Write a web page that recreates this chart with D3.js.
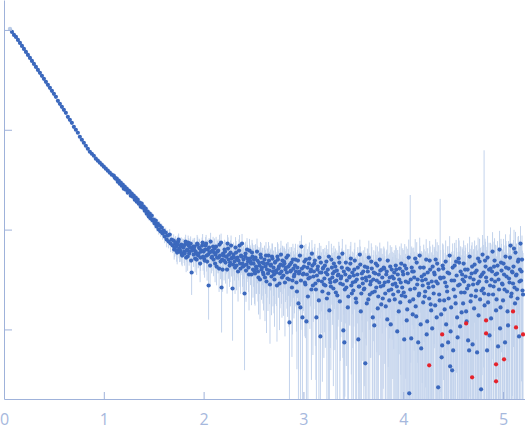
<!DOCTYPE html>
<html>
<head>
<meta charset="utf-8">
<script src="https://cdn.jsdelivr.net/npm/d3@7"></script>
<style>
  html, body { margin: 0; padding: 0; background: #ffffff; }
  svg { display: block; }
</style>
</head>
<body>
<svg id="chart" width="525" height="437"></svg>
<script>
// ---------------- data ----------------
// x: scattering vector q ; y: log10 of intensity (arbitrary units) ; err: sigma (linear units)
const qExcluded = [0.06];
const logIExcluded = [3.01];

const qLow = [0.08,0.10,0.12,0.14,0.16,0.18,0.20,0.22,0.24,0.26,0.28,0.30,0.32,0.34,0.36,0.38,0.40,0.42,0.44,0.46,
  0.48,0.50,0.52,0.54,0.56,0.58,0.60,0.62,0.64,0.66,0.68,0.70,0.72,0.74,0.76,0.78,0.80,0.82,0.84,0.86,
  0.88,0.90,0.92,0.94,0.96,0.98,1.00,1.02,1.04,1.06,1.08];
const logILow = [2.98,2.95,2.93,2.90,2.87,2.84,2.81,2.78,2.75,2.72,2.69,2.66,2.63,2.60,2.57,2.54,2.51,2.48,2.45,2.42,
  2.39,2.36,2.33,2.29,2.26,2.23,2.20,2.17,2.13,2.10,2.07,2.03,2.00,1.97,1.93,1.90,1.87,1.84,1.81,1.78,
  1.76,1.74,1.71,1.69,1.67,1.65,1.63,1.61,1.59,1.57,1.55];
const errLow = [3.6,3.4,3.2,3.0,2.8,2.6,2.4,2.2,2.1,2.0,1.8,1.7,1.6,1.5,1.4,1.3,1.2,1.15,1.1,1.0,
  0.95,0.9,0.85,0.8,0.75,0.7,0.68,0.65,0.6,0.58,0.55,0.52,0.5,0.48,0.46,0.44,0.42,0.41,0.4,0.39,
  0.38,0.37,0.36,0.35,0.35,0.34,0.34,0.33,0.33,0.32,0.32];

const qHigh = [
  1.10,1.11,1.12,1.13,1.14,1.15,1.16,1.17,1.18,1.19,1.20,1.21,1.22,1.23,1.24,1.25,1.26,1.27,1.28,1.29,
  1.30,1.31,1.32,1.33,1.34,1.35,1.36,1.37,1.38,1.39,1.40,1.41,1.42,1.43,1.44,1.45,1.46,1.47,1.48,1.49,
  1.50,1.51,1.52,1.53,1.54,1.55,1.56,1.57,1.58,1.59,1.60,1.61,1.62,1.63,1.64,1.65,1.66,1.67,1.68,1.69,
  1.70,1.71,1.72,1.73,1.74,1.75,1.76,1.77,1.78,1.79,1.80,1.81,1.82,1.83,1.84,1.85,1.86,1.87,1.88,1.89,
  1.90,1.91,1.92,1.93,1.94,1.95,1.96,1.97,1.98,1.99,2.00,2.01,2.02,2.03,2.04,2.05,2.06,2.07,2.08,2.09,
  2.10,2.11,2.12,2.13,2.14,2.15,2.16,2.17,2.18,2.19,2.20,2.21,2.22,2.23,2.24,2.25,2.26,2.27,2.28,2.29,
  2.30,2.31,2.32,2.33,2.34,2.35,2.36,2.37,2.38,2.39,2.40,2.41,2.42,2.43,2.44,2.45,2.46,2.47,2.48,2.49,
  2.50,2.51,2.52,2.53,2.54,2.55,2.56,2.57,2.58,2.59,2.60,2.61,2.62,2.63,2.64,2.65,2.66,2.67,2.68,2.69,
  2.70,2.71,2.72,2.73,2.74,2.75,2.76,2.77,2.78,2.79,2.80,2.81,2.82,2.83,2.84,2.85,2.86,2.87,2.88,2.89,
  2.90,2.91,2.92,2.93,2.94,2.95,2.96,2.97,2.98,2.99,3.00,3.01,3.02,3.03,3.04,3.05,3.06,3.07,3.08,3.09,
  3.10,3.11,3.12,3.13,3.14,3.15,3.16,3.17,3.18,3.19,3.20,3.21,3.22,3.23,3.24,3.25,3.26,3.27,3.28,3.29,
  3.30,3.31,3.32,3.33,3.34,3.35,3.36,3.37,3.38,3.39,3.40,3.41,3.42,3.43,3.44,3.45,3.46,3.47,3.48,3.49,
  3.50,3.51,3.52,3.53,3.54,3.55,3.56,3.57,3.58,3.59,3.60,3.61,3.62,3.63,3.64,3.65,3.66,3.67,3.68,3.69,
  3.70,3.71,3.72,3.73,3.74,3.75,3.76,3.77,3.78,3.79,3.80,3.81,3.82,3.83,3.84,3.85,3.86,3.87,3.88,3.89,
  3.90,3.91,3.92,3.93,3.94,3.95,3.96,3.97,3.98,3.99,4.00,4.01,4.02,4.03,4.04,4.05,4.06,4.07,4.08,4.09,
  4.10,4.11,4.12,4.13,4.14,4.15,4.16,4.17,4.18,4.19,4.20,4.21,4.22,4.23,4.24,4.25,4.26,4.27,4.28,4.29,
  4.30,4.31,4.32,4.33,4.34,4.35,4.36,4.37,4.38,4.39,4.40,4.41,4.42,4.43,4.44,4.45,4.46,4.47,4.48,4.49,
  4.50,4.51,4.52,4.53,4.54,4.55,4.56,4.57,4.58,4.59,4.60,4.61,4.62,4.63,4.64,4.65,4.66,4.67,4.68,4.69,
  4.70,4.71,4.72,4.73,4.74,4.75,4.76,4.77,4.78,4.79,4.80,4.81,4.82,4.83,4.84,4.85,4.86,4.87,4.88,4.89,
  4.90,4.91,4.92,4.93,4.94,4.95,4.96,4.97,4.98,4.99,5.00,5.01,5.02,5.03,5.04,5.05,5.06,5.07,5.08,5.09,
  5.10,5.11,5.12,5.13,5.14,5.15,5.16,5.17,5.18,5.19,5.20];
const logIHigh = [
  1.54,1.52,1.51,1.51,1.48,1.49,1.46,1.47,1.44,1.45, 1.41,1.43,1.40,1.41,1.37,1.39,1.38,1.34,1.36,1.33,
  1.34,1.30,1.32,1.28,1.30,1.26,1.27,1.23,1.26,1.22, 1.23,1.19,1.21,1.16,1.18,1.13,1.16,1.11,1.14,1.09,
  1.10,1.06,1.09,1.03,1.06,1.00,1.04,0.98,1.02,0.96, 0.99,0.93,0.97,0.90,0.94,0.88,0.95,0.86,0.90,0.84,
  0.89,0.82,0.87,0.79,0.85,0.90,0.78,0.83,0.76,0.84, 0.83,0.76,0.88,0.79,0.73,0.84,0.78,0.86,0.57,0.81,
  0.75,0.83,0.78,0.70,0.85,0.76,0.81,0.72,0.79,0.87, 0.78,0.69,0.84,0.74,0.80,0.44,0.77,0.88,0.72,0.79,
  0.70,0.81,0.75,0.63,0.78,0.72,0.85,0.68,0.42,0.60, 0.74,0.80,0.67,0.73,0.86,0.70,0.64,0.77,0.71,0.41,
  0.75,0.68,0.82,0.64,0.72,0.69,0.84,0.61,0.73,0.66, 0.70,0.36,0.76,0.65,0.71,0.62,0.79,0.68,0.55,0.73,
  0.66,0.58,0.72,0.61,0.69,0.52,0.64,0.75,0.60,0.67, 0.55,0.70,0.63,0.48,0.66,0.74,0.59,0.64,0.53,0.71,
  0.62,0.50,0.68,0.57,0.73,0.61,0.46,0.65,0.58,0.69, 0.54,0.66,0.60,0.72,0.51,0.63,0.07,0.58,0.67,0.49,
  0.61,0.55,0.70,0.47,0.62,0.26,0.58,0.22,0.83,0.12, 0.56,0.68,0.45,0.08,0.62,0.51,0.71,0.58,0.40,0.64,
  0.53,0.66,0.46,0.12,0.60,0.49,0.72,-0.07,0.57,0.38, 0.62,0.51,0.44,0.68,0.55,0.36,0.19,0.47,0.70,0.52,
  0.41,0.58,0.63,0.49,0.34,0.55,0.67,0.46,0.53,0.76, -0.01,-0.13,0.55,0.42,0.61,0.33,0.52,0.66,0.44,0.57,
  0.39,0.60,0.48,0.27,0.55,-0.10,0.43,0.65,0.36,0.51, 0.58,0.41,-0.34,0.49,0.62,0.30,0.53,0.45,0.68,0.37,
  0.50,0.04,0.56,0.42,0.64,0.33,0.47,0.59,0.25,0.52, 0.44,0.61,0.36,0.55,0.10,0.48,0.29,0.63,0.40,0.53,
  0.35,0.57,0.46,0.60,-0.02,0.38,0.50,0.27,0.66,0.42, 0.55,-0.10,0.33,0.61,0.20,0.47,-0.64,0.40,-0.09,0.58,
  0.30,0.52,0.71,0.13,0.45,-0.13,0.36,0.62,-0.19,0.49, 0.27,0.55,0.38,0.70,0.08,0.46,0.31,0.60,0.19,0.01,
  0.43,0.57,0.24,0.48,0.66,-0.58,0.35,0.52,0.15,-0.16, 0.61,0.29,0.47,0.05,0.38,-0.13,0.56,-0.37,0.22,-0.41,
  -0.21,0.49,0.33,0.68,0.12,0.44,0.67,0.03,0.37,0.55, 0.26,0.48,0.60,0.18,0.41,-0.11,-0.21,0.52,0.34,0.63,
  0.45,0.21,0.57,0.39,-0.23,0.71,0.48,0.30,-0.60,0.55, 0.41,0.36,0.69,0.52,-0.21,0.27,0.60,0.44,0.11,0.58,
  0.35,0.63,0.48,0.19,0.56,-0.17,0.40,0.01,0.67,0.46, 0.29,0.55,-0.13,0.62,0.38,0.04,0.51,0.72,0.33,0.58,
  0.46,0.81,0.26,0.54,0.40,0.68,-0.07,0.60,0.49,0.70,0.35];
const errHigh = [
  0.9,1.0,0.9,1.0,0.9,1.0,1.1,0.9,1.0,0.9, 1.0,0.9,1.0,1.1,1.0,0.9,1.0,1.0,1.1,1.0,
  1.0,1.1,1.0,0.9,1.0,1.1,1.0,1.0,1.1,1.0, 1.1,1.0,1.1,1.0,1.2,1.1,1.0,1.1,1.2,1.1,
  1.1,1.2,1.0,1.1,1.2,1.1,1.2,1.1,1.0,1.2, 1.1,1.2,1.1,1.3,1.2,1.1,1.2,1.3,1.2,1.1,
  1.2,1.3,1.2,1.4,1.3,1.2,1.3,1.4,1.3,1.2, 1.3,1.4,1.3,1.4,1.5,1.3,1.4,1.3,1.5,1.4,
  1.4,1.5,1.4,1.5,1.4,1.6,1.5,1.4,1.5,1.6, 1.5,1.6,1.5,1.7,1.6,1.5,1.6,1.7,1.6,1.5,
  1.6,1.7,1.6,1.5,1.7,1.6,1.8,1.6,1.7,1.6, 1.7,1.6,1.8,1.7,1.6,1.8,1.7,1.9,1.7,1.8,
  1.8,1.7,1.8,1.9,1.7,1.8,1.9,1.8,1.7,1.9, 1.8,1.9,1.8,2.0,1.9,1.8,1.9,2.0,1.8,1.9,
  1.9,2.0,1.9,1.8,2.0,1.9,2.1,1.9,2.0,1.9, 2.0,1.9,2.0,2.1,1.9,2.0,2.1,1.9,2.0,2.1,
  2.0,2.1,1.9,2.0,2.1,2.0,1.9,2.1,2.0,2.0, 2.1,2.0,2.1,2.0,1.9,2.1,2.0,2.1,2.0,2.2,
  2.0,2.1,2.2,2.0,2.1,2.0,2.2,2.1,2.0,2.1, 2.1,2.2,2.0,2.1,2.2,2.1,2.3,2.1,2.2,2.1,
  2.2,2.1,2.2,2.3,2.1,2.2,2.1,2.3,2.2,2.1, 2.2,2.3,2.1,2.2,2.3,2.2,2.1,2.3,2.2,2.2,
  2.3,2.2,2.2,2.3,2.1,2.3,2.2,2.4,2.2,2.3, 2.2,2.3,2.4,2.2,2.3,2.4,2.2,2.3,2.4,2.3,
  2.3,2.4,2.3,2.2,2.4,2.3,2.5,2.3,2.4,2.3, 2.4,2.3,2.5,2.4,2.3,2.5,2.4,2.3,2.5,2.4,
  2.4,2.5,2.4,2.6,2.4,2.5,2.4,2.6,2.5,2.4, 2.5,2.4,2.6,2.5,2.4,2.6,2.5,2.7,2.5,2.6,
  2.6,2.5,2.7,2.6,2.5,2.7,2.6,2.5,2.7,2.6, 2.7,2.6,2.8,2.7,2.6,2.8,2.7,19.7,2.8,2.7,
  2.8,2.7,2.9,2.8,2.7,2.9,2.8,2.7,2.9,2.8, 2.9,2.8,2.9,3.0,2.8,2.9,3.0,2.8,2.9,3.0,
  2.9,3.0,2.9,3.1,2.9,3.0,2.9,17.0,3.0,3.1, 3.0,3.1,2.9,3.0,3.1,3.0,3.2,3.0,3.1,3.0,
  3.1,3.0,3.2,3.1,3.0,3.2,3.1,3.0,3.2,3.1, 3.2,3.1,3.0,3.2,3.1,3.3,3.2,3.1,3.3,3.2,
  3.2,3.3,3.1,3.2,3.3,3.2,3.4,3.2,3.3,3.2, 3.3,60.0,3.2,3.4,3.3,3.2,3.4,3.3,3.5,3.3,
  3.4,3.3,3.5,3.4,3.3,3.5,3.4,3.6,3.4,3.5, 3.5,3.4,3.6,3.5,3.4,3.6,3.5,3.7,3.5,3.6,
  3.6,3.5,3.7,3.6,3.5,3.7,3.6,3.8,3.6,3.7,3.6];

// interleaved readings between the grid above (q = x.xx5)
const qMid = [
  1.705,1.715,1.725,1.735,1.745,1.755,1.765,1.775,1.785,1.795, 1.805,1.815,1.825,1.835,1.845,1.855,1.865,1.875,1.885,1.895,
  1.905,1.915,1.925,1.935,1.945,1.955,1.965,1.975,1.985,1.995, 2.005,2.015,2.025,2.035,2.045,2.055,2.065,2.075,2.085,2.095,
  2.105,2.115,2.125,2.135,2.145,2.155,2.165,2.175,2.185,2.195, 2.205,2.215,2.225,2.235,2.245,2.255,2.265,2.275,2.285,2.295,
  2.305,2.315,2.325,2.335,2.345,2.355,2.365,2.375,2.385,2.395, 2.405,2.415,2.425,2.435,2.445,2.455,2.465,2.475,2.485,2.495,
  2.505,2.515,2.525,2.535,2.545,2.555,2.565,2.575,2.585,2.595, 2.605,2.615,2.625,2.635,2.645,2.655,2.665,2.675,2.685,2.695,
  2.705,2.715,2.725,2.735,2.745,2.755,2.765,2.775,2.785,2.795, 2.805,2.815,2.825,2.835,2.845,2.855,2.865,2.875,2.885,2.895,
  2.905,2.915,2.925,2.935,2.945,2.955,2.965,2.975,2.985,2.995, 3.005,3.015,3.025,3.035,3.045,3.055,3.065,3.075,3.085,3.095,
  3.105,3.115,3.125,3.135,3.145,3.155,3.165,3.175,3.185,3.195, 3.205,3.215,3.225,3.235,3.245,3.255,3.265,3.275,3.285,3.295,
  3.305,3.315,3.325,3.335,3.345,3.355,3.365,3.375,3.385,3.395, 3.405,3.415,3.425,3.435,3.445,3.455,3.465,3.475,3.485,3.495,
  3.505,3.515,3.525,3.535,3.545,3.555,3.565,3.575,3.585,3.595, 3.605,3.615,3.625,3.635,3.645,3.655,3.665,3.675,3.685,3.695,
  3.705,3.715,3.725,3.735,3.745,3.755,3.765,3.775,3.785,3.795, 3.805,3.815,3.825,3.835,3.845,3.855,3.865,3.875,3.885,3.895,
  3.905,3.915,3.925,3.935,3.945,3.955,3.965,3.975,3.985,3.995, 4.005,4.015,4.025,4.035,4.045,4.055,4.065,4.075,4.085,4.095,
  4.105,4.115,4.125,4.135,4.145,4.155,4.165,4.175,4.185,4.195, 4.205,4.215,4.225,4.235,4.245,4.255,4.265,4.275,4.285,4.295,
  4.305,4.315,4.325,4.335,4.345,4.355,4.365,4.375,4.385,4.395, 4.405,4.415,4.425,4.435,4.445,4.455,4.465,4.475,4.485,4.495,
  4.505,4.515,4.525,4.535,4.545,4.555,4.565,4.575,4.585,4.595, 4.605,4.615,4.625,4.635,4.645,4.655,4.665,4.675,4.685,4.695,
  4.705,4.715,4.725,4.735,4.745,4.755,4.765,4.775,4.785,4.795, 4.805,4.815,4.825,4.835,4.845,4.855,4.865,4.875,4.885,4.895,
  4.905,4.915,4.925,4.935,4.945,4.955,4.965,4.975,4.985,4.995, 5.005,5.015,5.025,5.035,5.045,5.055,5.065,5.075,5.085,5.095,
  5.105,5.115,5.125,5.135,5.145,5.155,5.165,5.175,5.185,5.195];
const logIMid = [
  0.80,0.86,0.83,0.77,0.88,0.81,0.79,0.85,0.74,0.82, 0.78,0.85,0.72,0.80,0.87,0.76,0.82,0.69,0.79,0.83,
  0.80,0.71,0.76,0.86,0.74,0.82,0.66,0.78,0.84,0.73, 0.71,0.80,0.86,0.68,0.75,0.82,0.64,0.78,0.73,0.83,
  0.77,0.66,0.83,0.72,0.79,0.61,0.74,0.87,0.70,0.76, 0.69,0.78,0.73,0.60,0.81,0.75,0.67,0.84,0.72,0.65,
  0.72,0.62,0.77,0.70,0.58,0.79,0.66,0.74,0.86,0.63, 0.64,0.73,0.59,0.80,0.68,0.55,0.71,0.66,0.77,0.60,
  0.70,0.56,0.63,0.78,0.58,0.67,0.50,0.72,0.62,0.57, 0.66,0.52,0.74,0.60,0.56,0.69,0.45,0.65,0.73,0.58,
  0.55,0.67,0.59,0.44,0.70,0.63,0.56,0.75,0.52,0.64, 0.68,0.47,0.62,0.57,0.74,0.50,0.65,0.59,0.42,0.70,
  0.53,0.64,0.58,0.38,0.69,0.56,0.74,0.49,0.61,0.55, 0.63,0.47,0.70,0.55,0.33,0.66,0.52,0.60,0.76,0.44,
  0.58,0.69,0.40,0.54,0.63,0.29,0.57,0.67,0.48,0.61, 0.45,0.64,0.57,0.31,0.60,0.73,0.50,0.43,0.62,0.56,
  0.66,0.48,0.37,0.59,0.54,0.72,0.28,0.51,0.62,0.45, 0.58,0.40,0.67,0.49,0.22,0.60,0.53,0.71,0.36,0.47,
  0.54,0.69,0.31,0.50,0.62,0.43,0.75,0.18,0.56,0.46, 0.40,0.63,0.52,0.26,0.58,0.72,0.35,0.48,0.61,0.12,
  0.57,0.38,0.66,0.49,0.21,0.55,0.70,0.43,0.60,0.31, 0.62,0.47,0.23,0.58,0.69,0.39,0.52,0.05,0.60,0.45,
  0.51,0.30,0.64,0.43,0.55,0.18,0.61,0.47,0.34,0.58, 0.37,0.64,0.48,0.09,0.56,0.72,0.28,0.50,0.62,0.15,
  0.58,0.41,0.23,0.67,0.50,0.34,0.74,0.05,0.53,0.44, 0.62,0.33,0.50,-0.05,0.57,0.42,0.69,0.25,0.48,0.63,
  0.36,0.55,0.70,0.12,0.46,0.60,0.29,0.51,-0.28,0.64, 0.52,0.20,0.68,0.43,0.57,0.31,0.74,-0.02,0.49,0.62,
  0.40,0.64,0.26,0.54,-0.08,0.71,0.45,0.58,0.17,0.50, 0.66,0.37,0.53,0.08,0.60,0.44,0.73,0.28,0.56,-0.15,
  0.50,0.65,0.33,0.59,0.46,0.14,0.68,0.53,0.39,0.75, 0.57,0.24,0.63,0.48,0.72,0.35,-0.06,0.61,0.50,0.78,
  0.43,0.69,0.55,0.30,0.64,0.50,0.80,0.22,0.59,0.45, 0.66,0.40,0.73,0.53,0.18,0.61,0.47,0.84,0.36,0.57,
  0.63,0.42,0.77,0.55,0.31,0.70,0.48,0.86,0.58,0.39];
const errMid = [
  1.3,1.2,1.3,1.4,1.2,1.3,1.4,1.3,1.2,1.3, 1.4,1.3,1.5,1.4,1.3,1.4,1.5,1.4,1.3,1.4,
  1.5,1.4,1.5,1.6,1.4,1.5,1.6,1.5,1.4,1.5, 1.6,1.5,1.6,1.7,1.5,1.6,1.7,1.6,1.5,1.7,
  1.7,1.6,1.7,1.6,1.8,1.7,1.6,1.7,1.8,1.7, 1.8,1.7,1.8,1.7,1.9,1.8,1.7,1.8,1.9,1.8,
  1.8,1.9,1.8,1.7,1.9,1.8,1.9,2.0,1.8,1.9, 1.9,1.8,2.0,1.9,1.8,2.0,1.9,1.8,2.0,1.9,
  2.0,1.9,2.0,2.1,1.9,2.0,1.9,2.1,2.0,1.9, 2.0,2.1,2.0,1.9,2.1,2.0,2.1,2.0,1.9,2.1,
  2.1,2.0,2.1,2.0,2.2,2.1,2.0,2.1,2.0,2.1, 2.0,2.1,2.2,2.1,2.0,2.1,2.2,2.0,2.1,2.2,
  2.1,2.2,2.1,2.0,2.2,2.1,2.2,2.1,2.2,2.1, 2.2,2.1,2.2,2.3,2.1,2.2,2.3,2.2,2.1,2.2,
  2.2,2.3,2.2,2.1,2.3,2.2,2.3,2.2,2.1,2.3, 2.3,2.2,2.3,2.2,2.4,2.3,2.2,2.3,2.4,2.2,
  2.3,2.4,2.2,2.3,2.4,2.3,2.2,2.4,2.3,2.3, 2.4,2.3,2.4,2.3,2.5,2.4,2.3,2.4,2.5,2.3,
  2.4,2.5,2.3,2.4,2.5,2.4,2.3,2.5,2.4,2.4, 2.5,2.4,2.5,2.4,2.6,2.5,2.4,2.5,2.6,2.4,
  2.5,2.6,2.4,2.5,2.6,2.5,2.4,2.6,2.5,2.5, 2.6,2.5,2.6,2.5,2.7,2.6,2.5,2.6,2.7,2.5,
  2.6,2.7,2.6,2.5,2.7,2.6,2.7,2.6,2.5,2.7, 2.7,2.8,2.7,2.6,2.8,2.7,2.8,2.7,2.6,2.8,
  2.8,2.7,2.9,2.8,2.7,2.9,2.8,2.9,2.7,2.8, 2.9,2.8,2.9,3.0,2.8,2.9,2.8,3.0,2.9,2.8,
  3.0,2.9,3.0,2.9,3.1,3.0,2.9,3.0,3.1,2.9, 3.0,3.1,3.0,2.9,3.1,3.0,3.1,3.0,2.9,3.1,
  3.1,3.0,3.2,3.1,3.0,3.1,3.2,3.0,3.1,3.2, 3.2,3.1,3.2,3.1,3.3,3.2,3.1,3.2,3.3,3.1,
  3.2,3.3,3.2,3.1,3.3,3.2,3.3,3.2,3.4,3.2, 3.3,3.4,3.3,3.2,3.4,3.3,3.4,3.3,3.2,3.4,
  3.4,3.3,3.5,3.4,3.3,3.5,3.4,3.5,3.3,3.4, 3.5,3.4,3.6,3.5,3.4,3.6,3.5,3.6,3.4,3.5,
  3.6,3.5,3.6,3.7,3.5,3.6,3.7,3.6,3.5,3.7];

// points flagged in red
const qFlagged = [4.26,4.39,4.63,4.69,4.83,4.83,4.93,4.93,5.01,5.10,5.13,5.20];
const logIFlagged = [-0.36,-0.05,0.06,-0.48,0.09,-0.04,-0.35,-0.52,-0.30,0.18,0.02,-0.05];

const xTicks = [0, 1, 2, 3, 4, 5];
const yTicks = [1, 10, 100, 1000];
const xDomain = [0, 5.22];
const yDomainLog = [-0.697, 3.30];

// ---------------- drawing ----------------
(function () {
  const pLeft = 4, pRight = 525, pTop = 0, pBottom = 399;

  const svg = d3.select("#chart");
  const x = d3.scaleLinear().domain(xDomain).range([pLeft, pRight]);
  const y = d3.scaleLog().domain(yDomainLog.map(v => Math.pow(10, v))).range([pBottom, pTop]).clamp(true);

  const toRows = (qs, ls, es) => qs.map((q, i) => ({ q, I: Math.pow(10, ls[i]), e: es ? (es[i] || 0) : 0 }));
  const low = toRows(qLow, logILow, errLow);
  const high = toRows(qHigh, logIHigh, errHigh);
  const mid = toRows(qMid, logIMid, errMid);
  const excluded = toRows(qExcluded, logIExcluded, null);
  const flagged = toRows(qFlagged, logIFlagged, null);
  const main = low.concat(high, mid).sort((a, b) => a.q - b.q);

  svg.append("defs").append("clipPath").attr("id", "plotclip")
    .append("rect").attr("x", pLeft).attr("y", pTop).attr("width", pRight - pLeft).attr("height", pBottom - pTop);

  const plot = svg.append("g").attr("clip-path", "url(#plotclip)");

  const yMinVal = y.domain()[0];
  plot.append("g").selectAll("line").data(main).join("line")
    .attr("x1", d => x(d.q)).attr("x2", d => x(d.q))
    .attr("y1", d => y(d.I + d.e))
    .attr("y2", d => (d.I - d.e) > yMinVal ? y(d.I - d.e) : pBottom + 2)
    .attr("stroke", "#c3d3ec")
    .attr("stroke-width", 1);

  plot.append("g").selectAll("circle").data(excluded).join("circle")
    .attr("cx", d => x(d.q)).attr("cy", d => y(d.I)).attr("r", 2.2)
    .attr("fill", "#b9cbe8");

  plot.append("g").selectAll("circle").data(main).join("circle")
    .attr("cx", d => x(d.q)).attr("cy", d => y(d.I)).attr("r", 2.1)
    .attr("fill", "#3b68bd");

  plot.append("g").selectAll("circle").data(flagged).join("circle")
    .attr("cx", d => x(d.q)).attr("cy", d => y(d.I)).attr("r", 2.1)
    .attr("fill", "#e5222b");

  const axisColor = "#9fb2da";
  const xAxis = d3.axisBottom(x).tickValues(xTicks).tickFormat(d3.format("d"))
    .tickSizeInner(-7).tickSizeOuter(0).tickPadding(15);
  const gx = svg.append("g").attr("transform", `translate(0,${pBottom})`).call(xAxis);
  gx.select(".domain").attr("stroke", axisColor);
  gx.selectAll(".tick line").attr("stroke", axisColor);
  gx.selectAll(".tick text")
    .attr("fill", "#a6b8dd")
    .style("font-family", "'Open Sans', 'DejaVu Sans', sans-serif")
    .style("font-size", "16px");

  const yAxis = d3.axisLeft(y).tickValues(yTicks).tickFormat("")
    .tickSizeInner(-8).tickSizeOuter(0);
  const gy = svg.append("g").attr("transform", `translate(${pLeft},0)`).call(yAxis);
  gy.select(".domain").attr("stroke", axisColor);
  gy.selectAll(".tick line").attr("stroke", axisColor);
})();
</script>
</body>
</html>
